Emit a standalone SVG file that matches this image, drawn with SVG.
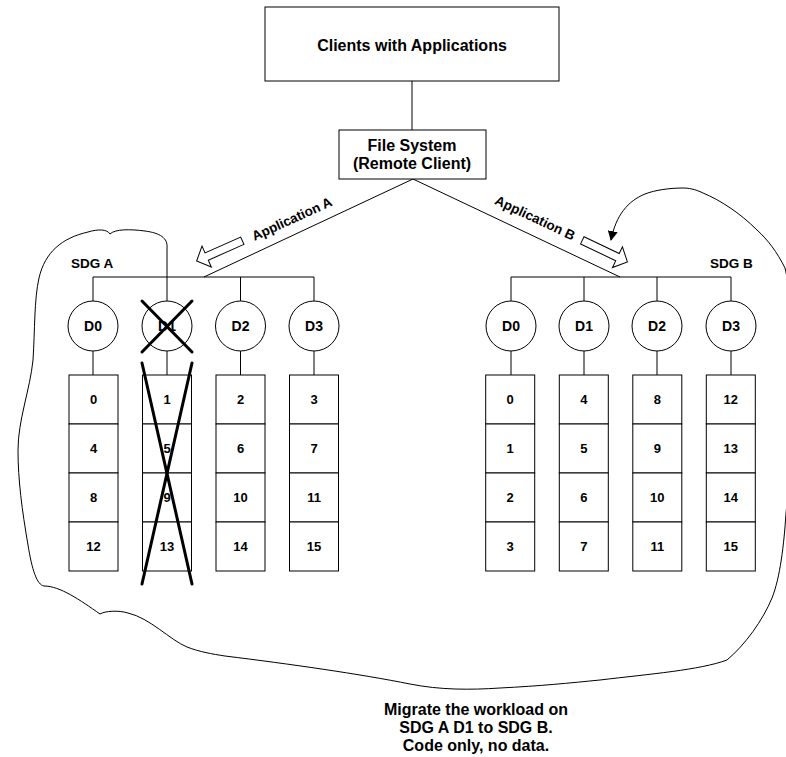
<svg xmlns="http://www.w3.org/2000/svg" width="786" height="757" viewBox="0 0 786 757">
<style>
  .ln{fill:none;stroke:#000;stroke-width:1}
  .bx{fill:#fff;stroke:#000;stroke-width:1}
  .x{stroke:#000;stroke-width:3;stroke-linecap:round}
  text{font-family:"Liberation Sans",Arial,sans-serif;font-weight:bold;fill:#000}
  .big{font-size:16px;text-anchor:middle}
  .d{font-size:14px;text-anchor:middle}
  .n{font-size:13px;text-anchor:middle}
  .s{font-size:13.5px}
</style>
<defs>
  <marker id="ah" viewBox="0 0 10 10" refX="9" refY="5" markerWidth="10" markerHeight="10" markerUnits="userSpaceOnUse" orient="auto">
    <path d="M0,0 L10,5 L0,10 z" fill="#000"/>
  </marker>
  <polygon id="blk" points="0,-4 39,-4 39,-11.5 50,0 39,11.5 39,4 0,4" fill="#fff" stroke="#000" stroke-width="1"/>
  <g id="col">
    <rect class="bx" x="-24.5" y="0" width="49" height="49"/>
    <rect class="bx" x="-24.5" y="49" width="49" height="49"/>
    <rect class="bx" x="-24.5" y="98" width="49" height="49"/>
    <rect class="bx" x="-24.5" y="147" width="49" height="49"/>
  </g>
</defs>

<g id="connectors">
  <line class="ln" x1="412" y1="81" x2="412" y2="130"/>
  <line class="ln" x1="413" y1="179" x2="204" y2="277"/>
  <line class="ln" x1="413" y1="179" x2="620" y2="277"/>
  <line class="ln" x1="93" y1="277" x2="314" y2="277"/>
  <line class="ln" x1="511" y1="277" x2="731" y2="277"/>
  <g class="ln">
    <line x1="93" y1="277" x2="93" y2="301"/><line x1="167" y1="277" x2="167" y2="301"/>
    <line x1="240.5" y1="277" x2="240.5" y2="301"/><line x1="314" y1="277" x2="314" y2="301"/>
    <line x1="511" y1="277" x2="511" y2="301"/><line x1="584" y1="277" x2="584" y2="301"/>
    <line x1="657" y1="277" x2="657" y2="301"/><line x1="731" y1="277" x2="731" y2="301"/>
    <line x1="93" y1="351" x2="93" y2="375"/><line x1="167" y1="351" x2="167" y2="375"/>
    <line x1="240.5" y1="351" x2="240.5" y2="375"/><line x1="314" y1="351" x2="314" y2="375"/>
    <line x1="511" y1="351" x2="511" y2="375"/><line x1="584" y1="351" x2="584" y2="375"/>
    <line x1="657" y1="351" x2="657" y2="375"/><line x1="731" y1="351" x2="731" y2="375"/>
  </g>
  <use href="#blk" transform="translate(242.3,240.7) rotate(156)"/>
  <use href="#blk" transform="translate(582.3,240.3) rotate(25.6)"/>
  <path class="ln" marker-end="url(#ah)" d="M167,277 L167,248 C168,238 160,233 145,231 C130,229 115,229 110,234 C107,229 98,229 88,232 C62,238 45,252 39,278 C34,300 35,330 33,360 C30,390 18,420 18,450 C18,480 22,510 28,545 C32,570 37,585 44,586 C60,586 80,600 100,614 C105,611 118,610 128,613 C150,618 170,640 187,647 C200,652 212,654 225,656 C290,664 360,674 410,684 C440,690 470,690 500,688 C540,686 570,683 600,680 C650,674 700,670 727,660 C745,645 763,620 772,598 C780,578 784,545 786,513 C792,460 796,400 793,340 C791,305 789,285 785,268 C777,252 768,240 757,230 C740,213 720,200 703,193 C695,189 688,188 683,188 C670,188 655,190 645,194 C628,201 616,215 611,240"/>
</g>

<g id="clients">
  <rect class="bx" x="265" y="7" width="294" height="74"/>
  <text class="big" x="412" y="51">Clients with Applications</text>
</g>
<g id="filesystem">
  <rect class="bx" x="339" y="130" width="147" height="49"/>
  <text class="big" x="412" y="151">File System</text>
  <text class="big" x="412" y="169">(Remote Client)</text>
</g>

<g id="labels">
  <text class="s" transform="translate(292,219) rotate(-24.6)" x="0" y="4.5" text-anchor="middle">Application A</text>
  <text class="s" transform="translate(535,218) rotate(25.3)" x="0" y="4.5" text-anchor="middle">Application B</text>
  <text class="s" x="71" y="268">SDG A</text>
  <text class="s" x="710" y="268">SDG B</text>
</g>

<g id="sdgA-D0">
  <circle class="bx" cx="93" cy="326" r="25"/><text class="d" x="93" y="331">D0</text>
  <use href="#col" x="93.5" y="375"/>
  <text class="n" x="93.5" y="404">0</text><text class="n" x="93.5" y="453">4</text><text class="n" x="93.5" y="502">8</text><text class="n" x="93.5" y="551">12</text>
</g>
<g id="sdgA-D1">
  <circle class="bx" cx="167" cy="326" r="25"/><text class="d" x="167" y="331">D1</text>
  <use href="#col" x="167" y="375"/>
  <text class="n" x="167" y="404">1</text><text class="n" x="167" y="453">5</text><text class="n" x="167" y="502">9</text><text class="n" x="167" y="551">13</text>
  <line class="x" x1="142" y1="301" x2="192" y2="352"/><line class="x" x1="192" y1="301" x2="142" y2="352"/>
  <line class="x" x1="142" y1="363" x2="192" y2="584"/><line class="x" x1="192" y1="363" x2="142" y2="584"/>
</g>
<g id="sdgA-D2">
  <circle class="bx" cx="240.5" cy="326" r="25"/><text class="d" x="240.5" y="331">D2</text>
  <use href="#col" x="240.5" y="375"/>
  <text class="n" x="240.5" y="404">2</text><text class="n" x="240.5" y="453">6</text><text class="n" x="240.5" y="502">10</text><text class="n" x="240.5" y="551">14</text>
</g>
<g id="sdgA-D3">
  <circle class="bx" cx="314" cy="326" r="25"/><text class="d" x="314" y="331">D3</text>
  <use href="#col" x="314" y="375"/>
  <text class="n" x="314" y="404">3</text><text class="n" x="314" y="453">7</text><text class="n" x="314" y="502">11</text><text class="n" x="314" y="551">15</text>
</g>

<g id="sdgB-D0">
  <circle class="bx" cx="511" cy="326" r="25"/><text class="d" x="511" y="331">D0</text>
  <use href="#col" x="510.2" y="375"/>
  <text class="n" x="510.2" y="404">0</text><text class="n" x="510.2" y="453">1</text><text class="n" x="510.2" y="502">2</text><text class="n" x="510.2" y="551">3</text>
</g>
<g id="sdgB-D1">
  <circle class="bx" cx="584" cy="326" r="25"/><text class="d" x="584" y="331">D1</text>
  <use href="#col" x="583.8" y="375"/>
  <text class="n" x="583.8" y="404">4</text><text class="n" x="583.8" y="453">5</text><text class="n" x="583.8" y="502">6</text><text class="n" x="583.8" y="551">7</text>
</g>
<g id="sdgB-D2">
  <circle class="bx" cx="657" cy="326" r="25"/><text class="d" x="657" y="331">D2</text>
  <use href="#col" x="657.3" y="375"/>
  <text class="n" x="657.3" y="404">8</text><text class="n" x="657.3" y="453">9</text><text class="n" x="657.3" y="502">10</text><text class="n" x="657.3" y="551">11</text>
</g>
<g id="sdgB-D3">
  <circle class="bx" cx="731" cy="326" r="25"/><text class="d" x="731" y="331">D3</text>
  <use href="#col" x="730.8" y="375"/>
  <text class="n" x="730.8" y="404">12</text><text class="n" x="730.8" y="453">13</text><text class="n" x="730.8" y="502">14</text><text class="n" x="730.8" y="551">15</text>
</g>

<g id="note">
  <text class="big" x="476" y="715">Migrate the workload on</text>
  <text class="big" x="476" y="733">SDG A D1 to SDG B.</text>
  <text class="big" x="476" y="751">Code only, no data.</text>
</g>
</svg>
